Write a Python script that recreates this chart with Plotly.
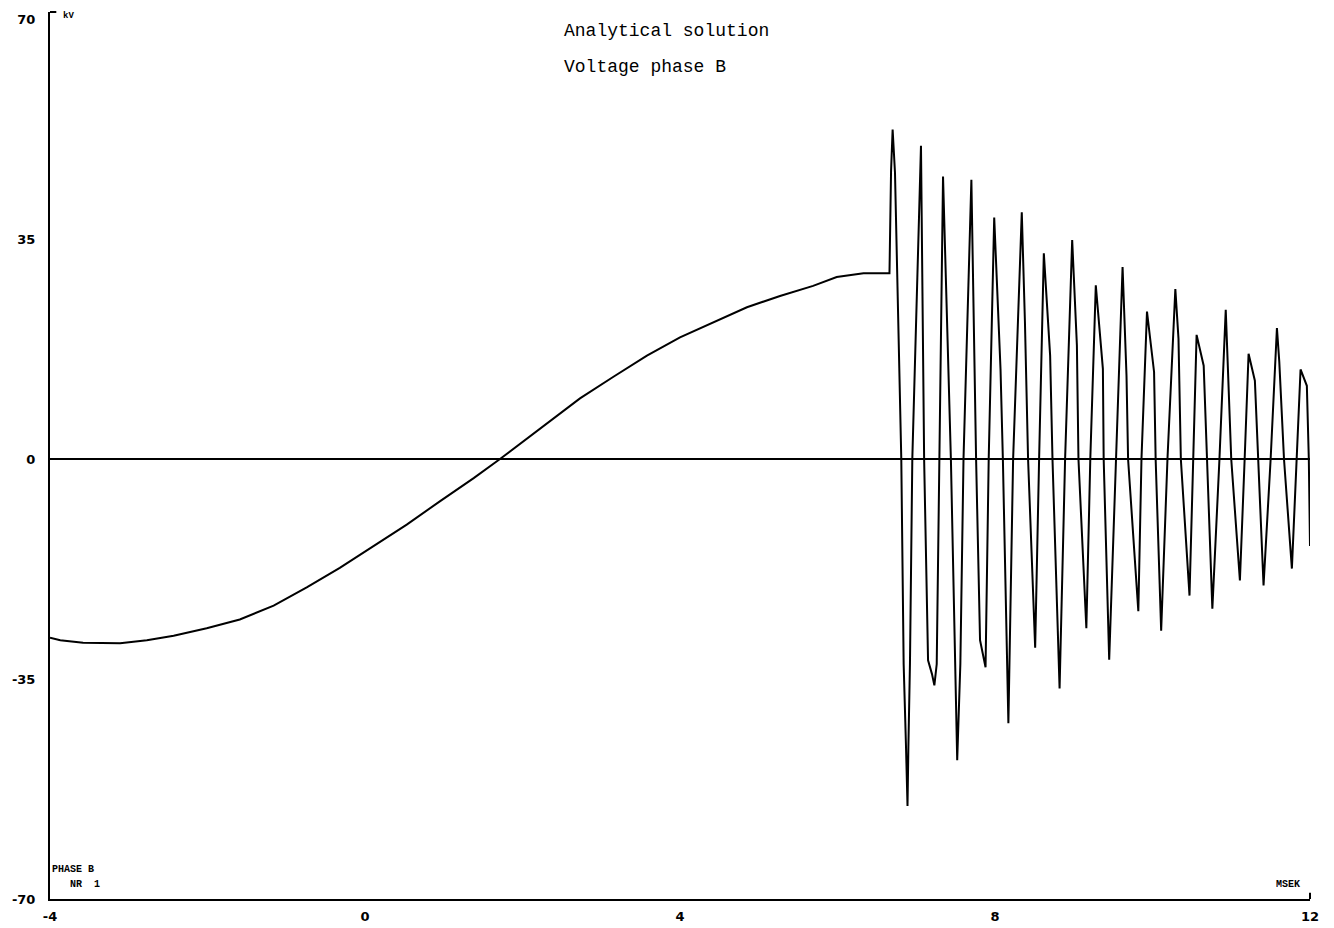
import plotly.graph_objects as go

# ---- data (time in ms, voltage in kV) ----
t_smooth = [-4.0, -3.87, -3.58, -3.11, -2.77, -2.43, -2.01, -1.59, -1.16, -0.74,
            -0.32, 0.11, 0.53, 0.95, 1.38, 1.71, 2.31, 2.73, 3.15, 3.58,
            4.00, 4.42, 4.85, 5.27, 5.69, 5.99, 6.33, 6.66]
v_smooth = [-28.4, -28.8, -29.2, -29.3, -28.8, -28.1, -26.9, -25.5, -23.3, -20.4,
            -17.3, -13.8, -10.4, -6.7, -3.0, 0.0, 5.7, 9.7, 13.1, 16.5,
            19.4, 21.8, 24.2, 26.0, 27.6, 29.0, 29.6, 29.6]

t_osc = [6.68, 6.70, 6.73, 6.81, 6.84, 6.87, 6.889, 6.90, 6.92, 6.95,
         7.06, 7.10, 7.15, 7.20, 7.23, 7.26, 7.29, 7.34, 7.44, 7.49,
         7.52, 7.56, 7.60, 7.70, 7.76, 7.81, 7.88, 7.92, 7.99, 8.07,
         8.10, 8.17, 8.23, 8.34, 8.38, 8.42, 8.51, 8.56, 8.62, 8.70,
         8.73, 8.82, 8.89, 8.98, 9.04, 9.06, 9.16, 9.21, 9.28, 9.37,
         9.38, 9.45, 9.54, 9.62, 9.67, 9.69, 9.82, 9.86, 9.93, 10.02,
         10.04, 10.11, 10.19, 10.29, 10.33, 10.36, 10.47, 10.52, 10.56, 10.65,
         10.69, 10.76, 10.85, 10.93, 11.00, 11.11, 11.17, 11.22, 11.30, 11.34,
         11.41, 11.50, 11.58, 11.61, 11.67, 11.77, 11.83, 11.88, 11.96, 11.985,
         12.0]
v_osc = [45.8, 52.5, 45.6, 0.0, -32.6, -45.8, -55.2, -45.8, -32.6, 0.0,
         49.9, 0.0, -32.0, -34.2, -36.0, -32.6, 0.0, 45.0, 0.0, -32.6,
         -47.9, -32.6, 0.0, 44.5, 0.0, -28.8, -33.1, 0.0, 38.5, 14.4,
         0.0, -42.0, 0.0, 39.3, 21.9, 0.0, -30.0, 0.0, 32.8, 16.5,
         0.0, -36.5, 0.0, 34.9, 18.1, 0.0, -26.9, 0.0, 27.7, 14.4,
         0.0, -31.9, 0.0, 30.6, 13.3, 0.0, -24.2, 0.0, 23.5, 13.9,
         0.0, -27.3, 0.0, 27.1, 19.2, 0.0, -21.7, 0.0, 19.8, 14.9,
         0.0, -23.8, 0.0, 23.8, 0.0, -19.3, 0.0, 16.8, 12.5, 0.0,
         -20.1, 0.0, 20.9, 15.5, 0.0, -17.4, 0.0, 14.3, 11.7, 0.0,
         -13.8]

x_ticks = [-4, 0, 4, 8, 12]
x_tick_labels = ["-4", "0", "4", "8", "12"]
y_ticks = [-70, -35, 0, 35, 70]
y_tick_labels = ["-70", "-35", "0", "35", "70"]

t_all = t_smooth + t_osc
v_all = v_smooth + v_osc

fig = go.Figure()
fig.add_trace(go.Scatter(x=t_all, y=v_all, mode="lines",
                         line=dict(color="black", width=2),
                         showlegend=False, hoverinfo="skip"))

tickfont = dict(family="DejaVu Sans", size=13, color="black", weight="bold")

fig.update_layout(
    width=1326, height=920,
    margin=dict(l=42, r=24, t=4, b=29),
    paper_bgcolor="white", plot_bgcolor="white",
    xaxis=dict(range=[-4, 12], showgrid=False, zeroline=False,
               showline=True, linecolor="black", linewidth=2,
               tickvals=x_ticks, ticktext=x_tick_labels, ticks="",
               tickfont=tickfont, ticklabelstandoff=4, automargin=False),
    yaxis=dict(range=[-70, 71.2], showgrid=False,
               zeroline=True, zerolinecolor="black", zerolinewidth=2,
               showline=True, linecolor="black", linewidth=2,
               tickvals=y_ticks, ticktext=y_tick_labels, ticks="",
               tickfont=tickfont, ticklabelstandoff=10, automargin=False),
    shapes=[
        dict(type="line", xref="paper", yref="paper", x0=0, x1=0.005, y0=1, y1=1,
             line=dict(color="black", width=2)),
        dict(type="line", xref="paper", yref="paper", x0=1, x1=1, y0=0, y1=0.007,
             line=dict(color="black", width=2)),
    ],
    annotations=[
        dict(text="Analytical solution", xref="paper", yref="paper",
             x=0.4063, y=0.9786, xanchor="left", yanchor="middle", showarrow=False,
             font=dict(family="Liberation Mono", size=18, color="black")),
        dict(text="Voltage phase B", xref="paper", yref="paper",
             x=0.4063, y=0.938, xanchor="left", yanchor="middle", showarrow=False,
             font=dict(family="Liberation Mono", size=18, color="black")),
        dict(text="kV", xref="paper", yref="paper",
             x=0.009, y=0.995, xanchor="left", yanchor="middle", showarrow=False,
             font=dict(family="Liberation Mono", size=9, color="black", weight="bold")),
        dict(text="PHASE B", xref="paper", yref="paper",
             x=0.0, y=0.0327, xanchor="left", yanchor="middle", showarrow=False,
             font=dict(family="Liberation Mono", size=10, color="black", weight="bold")),
        dict(text="NR  1", xref="paper", yref="paper",
             x=0.014, y=0.0169, xanchor="left", yanchor="middle", showarrow=False,
             font=dict(family="Liberation Mono", size=10, color="black", weight="bold")),
        dict(text="MSEK", xref="paper", yref="paper",
             x=0.9937, y=0.0158, xanchor="right", yanchor="middle", showarrow=False,
             font=dict(family="Liberation Mono", size=10, color="black", weight="bold")),
    ],
)

fig.write_html("out.html")
